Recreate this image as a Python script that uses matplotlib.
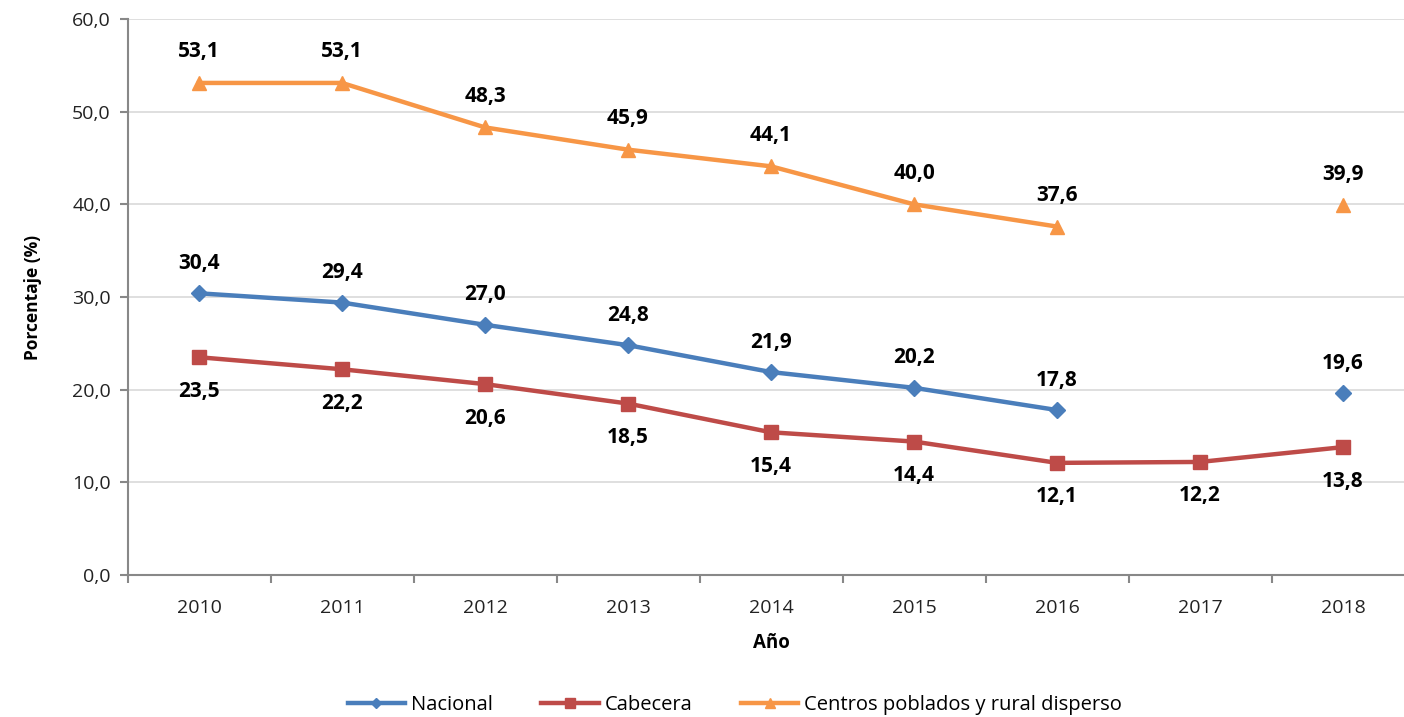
import numpy as np
import matplotlib
matplotlib.use("Agg")
import matplotlib.pyplot as plt

years = ["2010", "2011", "2012", "2013", "2014", "2015", "2016", "2017", "2018"]
nacional = [30.4, 29.4, 27.0, 24.8, 21.9, 20.2, 17.8, None, 19.6]
cabecera = [23.5, 22.2, 20.6, 18.5, 15.4, 14.4, 12.1, 12.2, 13.8]
centros = [53.1, 53.1, 48.3, 45.9, 44.1, 40.0, 37.6, None, 39.9]
yticks = [0, 10, 20, 30, 40, 50, 60]

plt.rcParams['font.family'] = ['Open Sans', 'DejaVu Sans']

fig = plt.figure(figsize=(14.04, 7.17), dpi=100)
W, H = 1404, 717
left, right, top, bottom = 127.5, 1414.5, 19, 575
ax = fig.add_axes([left / W, 1 - bottom / H, (right - left) / W, (bottom - top) / H])

x = np.arange(len(years))

def arr(v):
    return np.array([np.nan if a is None else a for a in v], dtype=float)

series = [
    ("Nacional", arr(nacional), "#4A7EBB", "D", 8, 30),
    ("Cabecera", arr(cabecera), "#BE4B48", "s", 10, -34),
    ("Centros poblados y rural disperso", arr(centros), "#F79646", "^", 10, 31),
]

for name, vals, col, mk, ms, off in series:
    ax.plot(x, vals, color=col, lw=3.2, marker=mk, markersize=ms, label=name,
            markeredgecolor=col, markerfacecolor=col, zorder=3, clip_on=False)
    for xi, v in zip(x, vals):
        if np.isnan(v):
            continue
        ax.annotate(f"{v:.1f}".replace(".", ","), (xi, v), xytext=(0, off),
                    textcoords="offset pixels", ha="center", va="center",
                    fontsize=15, fontweight="bold", color="black")

ax.set_xlim(-0.5, len(years) - 0.5)
ax.set_ylim(0, 60)
ax.set_yticks(yticks)
ax.set_yticklabels([f"{t:.1f}".replace(".", ",") for t in yticks], fontsize=14, color="#222222")
ax.set_xticks(x)
ax.set_xticklabels(years, fontsize=14, color="#222222")
ax.set_xticks(np.arange(-0.5, len(years), 1), minor=True)
ax.tick_params(axis="x", which="major", length=0, pad=17)
ax.tick_params(axis="x", which="minor", length=6, color="#888888", width=1.5)
ax.tick_params(axis="y", length=6, color="#888888", width=1.5, pad=6)

ax.grid(axis="y", color="#D9D9D9", lw=1.2)
ax.set_axisbelow(True)
for s in ["top", "right"]:
    ax.spines[s].set_visible(False)
for s in ["left", "bottom"]:
    ax.spines[s].set_color("#888888")
    ax.spines[s].set_linewidth(1.5)

ax.set_ylabel("Porcentaje (%)", fontsize=12.5, fontweight="bold", labelpad=22)
ax.set_xlabel("Año", fontsize=13.5, fontweight="bold", labelpad=12)

leg = fig.legend(loc="center", bbox_to_anchor=(735 / W, 1 - 705 / H), ncol=3,
                 frameon=False, fontsize=14.5, handlelength=2.85, columnspacing=2.4,
                 handletextpad=0.3, markerscale=0.7)

fig.savefig("out.png", dpi=100)
